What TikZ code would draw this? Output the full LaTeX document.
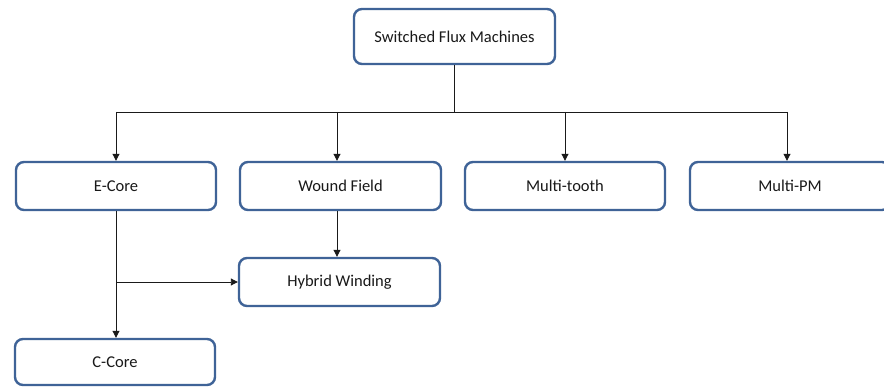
\documentclass[tikz,border=0pt]{standalone}
\usepackage{fontspec}
\setmainfont{Carlito}
\usetikzlibrary{arrows.meta}
\definecolor{boxline}{HTML}{3F6397}
\definecolor{linkline}{HTML}{1A1A1A}
\tikzset{
  x=1pt, y=-1pt,
  box/.style={draw=boxline, line width=2.4pt, rounded corners=8pt, fill=white,
    minimum width=200pt, minimum height=48pt, inner sep=0pt,
    font=\fontsize{16.5}{18}\selectfont, text=black!90},
  link/.style={draw=linkline, line width=0.9pt},
  arr/.style={link, -{Triangle[length=7pt,width=7pt]}}
}
\begin{document}
\begin{tikzpicture}
\useasboundingbox (0,0) rectangle (884,387);
% category boxes
\node[box, minimum width=201pt, minimum height=55pt] (top) at (454.5,36.5) {Switched Flux Machines};
\node[box] (ecore) at (116,186) {E-Core};
\node[box, minimum width=201pt] (wound) at (340.5,186) {Wound Field};
\node[box] (multi) at (565,186) {Multi-tooth};
\node[box] (multipm) at (790,186) {Multi-PM};
\node[box, minimum width=201pt] (hybrid) at (339.5,282) {Hybrid Winding};
\node[box, minimum height=46pt] (ccore) at (115,362) {C-Core};
% distribution bus below the root
\coordinate (bus) at (454.5,112);
\coordinate (bE) at (116,112);
\coordinate (bW) at (337,112);
\coordinate (bM) at (565,112);
\coordinate (bP) at (787,112);
\coordinate (split) at (116,282);
% connectors
\draw[link] (top.south) -- (bus);
\draw[link] (bE) -- (bP);
\draw[arr] (bE) -- (bE |- ecore.north);
\draw[arr] (bW) -- (bW |- wound.north);
\draw[arr] (bM) -- (bM |- multi.north);
\draw[arr] (bP) -- (bP |- multipm.north);
\draw[arr] (bW |- wound.south) -- (bW |- hybrid.north);
\draw[arr] (ecore.south) -- (bE |- ccore.north);
\draw[arr] (split) -- (hybrid.west);
\end{tikzpicture}
\end{document}
